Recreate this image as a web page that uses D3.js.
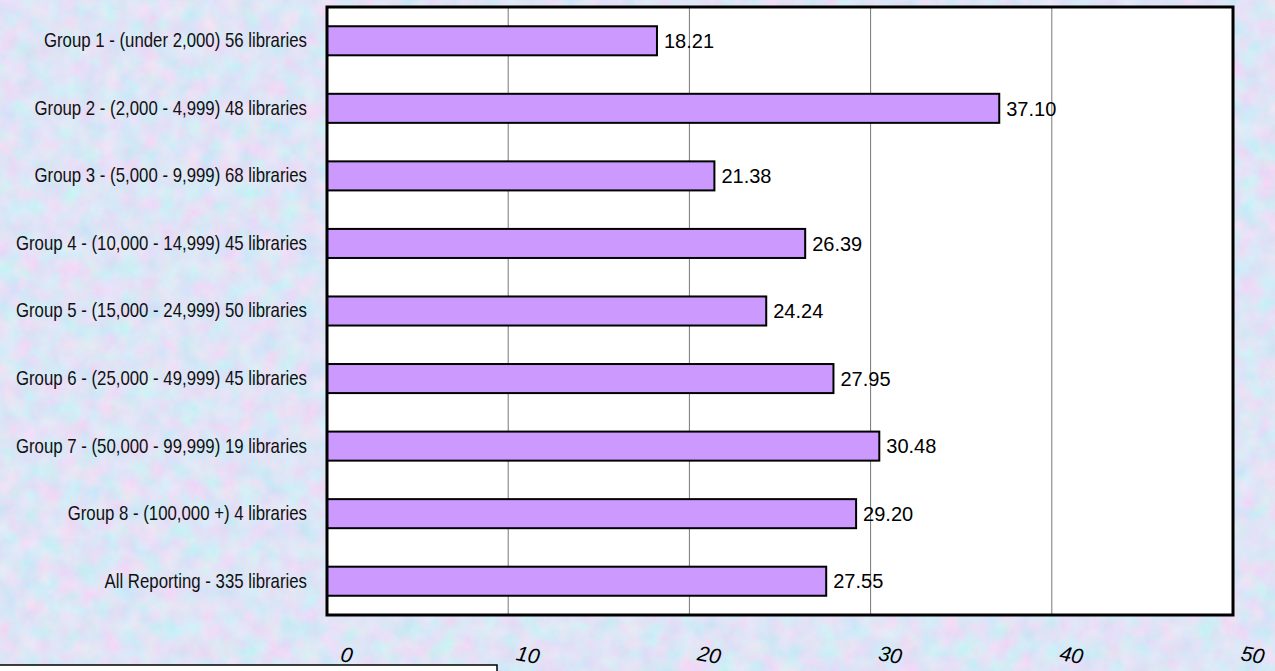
<!DOCTYPE html>
<html><head><meta charset="utf-8">
<script src="https://cdn.jsdelivr.net/npm/d3@7"></script>
<style>html,body{margin:0;padding:0;overflow:hidden;background:#c4cdf0;}</style>
</head><body>
<script>
const categories = [
  "Group 1 - (under 2,000) 56 libraries",
  "Group 2 - (2,000 - 4,999) 48 libraries",
  "Group 3 - (5,000 - 9,999) 68 libraries",
  "Group 4 - (10,000 - 14,999) 45 libraries",
  "Group 5 - (15,000 - 24,999) 50 libraries",
  "Group 6 - (25,000 - 49,999) 45 libraries",
  "Group 7 - (50,000 - 99,999) 19 libraries",
  "Group 8 - (100,000 +) 4 libraries",
  "All Reporting - 335 libraries"
];
const values = [18.21, 37.10, 21.38, 26.39, 24.24, 27.95, 30.48, 29.20, 27.55];
const tickValues = [0, 10, 20, 30, 40, 50];

(function(){
const W = 1275, H = 671;
const svg = d3.select("body").append("svg").attr("width", W).attr("height", H);
const defs = svg.append("defs");
const f = defs.append("filter").attr("id","tex").attr("x",0).attr("y",0).attr("width","100%").attr("height","100%");
f.append("feTurbulence").attr("type","fractalNoise").attr("baseFrequency","0.05").attr("numOctaves",4).attr("seed",7).attr("result","n");
f.append("feColorMatrix").attr("in","n").attr("type","matrix")
  .attr("values","0.5 0 0 0 0.48  -0.2 0.2 0 0 0.78  0 0 0.1 0 0.87  0 0 0 0 1");
svg.append("rect").attr("width",W).attr("height",H).attr("filter","url(#tex)");

const pL = 327, pR = 1233, pT = 7, pB = 615;
const x = d3.scaleLinear().domain([0, 50]).range([pL, pR]);
const y = d3.scaleBand().domain(categories).range([pT, pB]).paddingInner(0.57).paddingOuter(0.285);

svg.append("rect").attr("x", pL).attr("y", pT).attr("width", pR-pL).attr("height", pB-pT).attr("fill", "#fff");

svg.append("g").selectAll("line").data(tickValues.filter(d => d > 0 && d < 50)).join("line")
  .attr("x1", d => x(d)).attr("x2", d => x(d)).attr("y1", pT).attr("y2", pB)
  .attr("stroke", "#777").attr("stroke-width", 1);

svg.append("g").selectAll("rect").data(values).join("rect")
  .attr("x", x(0)).attr("y", (d,i) => y(categories[i]))
  .attr("width", d => x(d) - x(0)).attr("height", y.bandwidth())
  .attr("fill", "#cc99ff").attr("stroke", "#000").attr("stroke-width", 2);

svg.append("g").selectAll("text").data(values).join("text")
  .attr("x", d => x(d) + 7).attr("y", (d,i) => y(categories[i]) + y.bandwidth()/2)
  .attr("dy", "0.36em").attr("font-family", "Liberation Sans, Arial, sans-serif").attr("font-size", 20)
  .attr("fill", "#000").text(d => d.toFixed(2));

svg.append("rect").attr("x", pL).attr("y", pT).attr("width", pR-pL).attr("height", pB-pT)
  .attr("fill", "none").attr("stroke", "#000").attr("stroke-width", 3);

const ya = svg.append("g").attr("transform", `translate(${pL},0)`)
  .call(d3.axisLeft(y).tickSize(0).tickPadding(19));
ya.select(".domain").remove();
ya.selectAll("text").attr("font-family", "Liberation Sans Narrow, Arial Narrow, Liberation Sans, sans-serif")
  .attr("font-size", 20).attr("fill", "#111")
  .attr("x", 0).attr("transform", "translate(-20,0) scale(0.84,1)");

const xa = svg.append("g").attr("transform", `translate(0,${pB})`)
  .call(d3.axisBottom(x).tickValues(tickValues).tickSize(0).tickFormat(d3.format("d")));
xa.select(".domain").remove();
xa.selectAll("text")
  .attr("font-family", "Liberation Sans, Arial, sans-serif").attr("font-size", 21).attr("font-style", "italic")
  .attr("fill", "#000").attr("y", 0).attr("dy", 0)
  .attr("text-anchor", "middle")
  .attr("transform", "translate(18,47) rotate(10)");

svg.append("rect").attr("x", -2).attr("y", 665).attr("width", 499).attr("height", 20)
  .attr("fill", "#fff").attr("stroke", "#000").attr("stroke-width", 1.5);
})();
</script>
</body></html>
